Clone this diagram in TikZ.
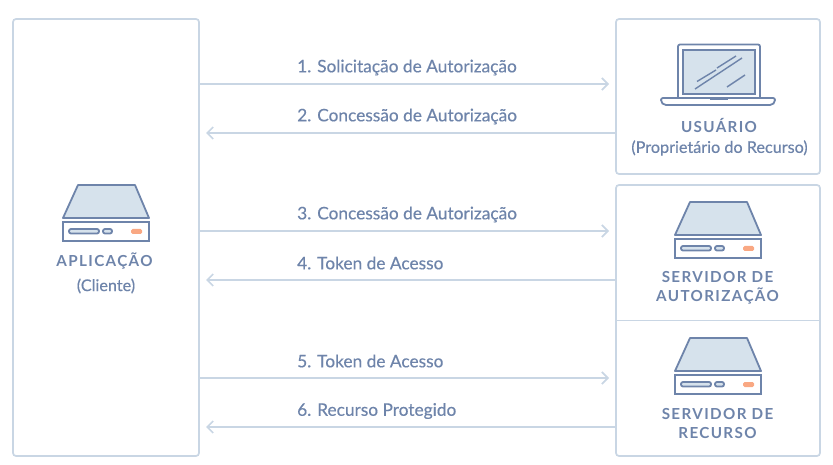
\documentclass[tikz,border=0pt]{standalone}
\usepackage{fontspec}
\setmainfont{Lato}
\newfontfamily\msgfont[FakeBold=0.4]{Lato}
\newfontfamily\capsfont[LetterSpace=9]{Lato}
\usetikzlibrary{arrows.meta}
\definecolor{boxline}{HTML}{C9D6E4}
\definecolor{inkblue}{HTML}{6E84AA}
\definecolor{iconfill}{HTML}{D6E2EC}
\definecolor{ledorange}{HTML}{F9A883}
\tikzset{
box/.style={draw=boxline,line width=1.7pt,rounded corners=3pt,inner sep=0pt},
flow/.style={draw=boxline,line width=1.7pt,-{Straight Barb[length=6pt,width=12pt,line width=1.7pt]}},
msg/.style={anchor=west,inner sep=0pt,text=inkblue,font=\msgfont\fontsize{17.3}{18}\selectfont},
role/.style={inner sep=0pt,align=center,text=inkblue,font=\capsfont\bfseries\fontsize{15.2}{19.5}\selectfont},
note/.style={inner sep=0pt,align=center,text=inkblue,font=\msgfont\fontsize{16.2}{18}\selectfont},
icon/.style={draw=inkblue,line width=1.8pt},
server/.pic={
\draw[icon,fill=iconfill,line join=round] (78,185) -- (135,185) -- (149,218) -- (63,218) -- cycle;
\draw[icon] (63,222) rectangle (149,241);
\draw[icon,fill=iconfill,rounded corners=2pt] (69,229) rectangle (99,233.5);
\draw[icon,fill=iconfill,rounded corners=2pt] (103,229) rectangle (112,233.5);
\fill[ledorange,rounded corners=1.5pt] (131,229) rectangle (142,234);
}}
\begin{document}
\begin{tikzpicture}[x=1pt,y=-1pt]
\useasboundingbox (0,0) rectangle (833,465);
\node[box,minimum width=186pt,minimum height=437pt] at (106,237.5) (APP) {};
\node[box,minimum width=204pt,minimum height=155pt] at (718,96.5) (USR) {};
\node[box,minimum width=204pt,minimum height=271pt] at (718,320.5) (SRV) {};
\draw[draw=boxline,line width=1.7pt] (SRV.west) -- (SRV.east);
% arrow ends
\coordinate (A1) at (609,84);
\coordinate (A2) at (206,133);
\coordinate (A3) at (609,231);
\coordinate (A4) at (206,280);
\coordinate (A5) at (609,378);
\coordinate (A6) at (206,427);
\draw[flow] (APP.east |- A1) -- (A1);
\draw[flow] (USR.west |- A2) -- (A2);
\draw[flow] (APP.east |- A3) -- (A3);
\draw[flow] (SRV.west |- A4) -- (A4);
\draw[flow] (APP.east |- A5) -- (A5);
\draw[flow] (SRV.west |- A6) -- (A6);
\node[msg] at (297,67.5) (M1) {1. Solicitação de Autorização};
\node[msg] at (297,116.5) (M2) {2. Concessão de Autorização};
\node[msg] at (297,214.5) (M3) {3. Concessão de Autorização};
\node[msg] at (297,263) (M4) {4. Token de Acesso};
\node[msg] at (297,361) (M5) {5. Token de Acesso};
\node[msg] at (297,411) (M6) {6. Recurso Protegido};
% icons
\pic at (0,0) {server};
\pic at (612,17) {server};
\pic at (612,153) {server};
% laptop
\draw[icon,rounded corners=2pt] (678,98) -- (678,44.5) -- (760,44.5) -- (760,98);
\draw[icon,fill=iconfill] (683,50) rectangle (755,94);
\draw[icon,line width=1.4pt] (697,81.5) -- (716,70) (717,68) -- (736,56) (695,89) -- (742,58) (727,87) -- (745,75);
\draw[icon,rounded corners=2pt] (661,98) -- (775,98) -- (775,102) -- (772,105) -- (664,105) -- (661,102) -- cycle;
\fill[inkblue] (710,98) rectangle (728,100.5);
\node[role] at (719,125) (USRT) {USUÁRIO};
\node[note] at (719.5,148) (USRN) {(Proprietário do Recurso)};
\node[role] at (104.5,261.5) (APPT) {APLICAÇÃO};
\node[note] at (106,286) (APPN) {(Cliente)};
\node[role] at (717.5,288) (AUTT) {SERVIDOR DE\\AUTORIZAÇÃO};
\node[role] at (717.5,423.5) (RECT) {SERVIDOR DE\\RECURSO};
\end{tikzpicture}
\end{document}
